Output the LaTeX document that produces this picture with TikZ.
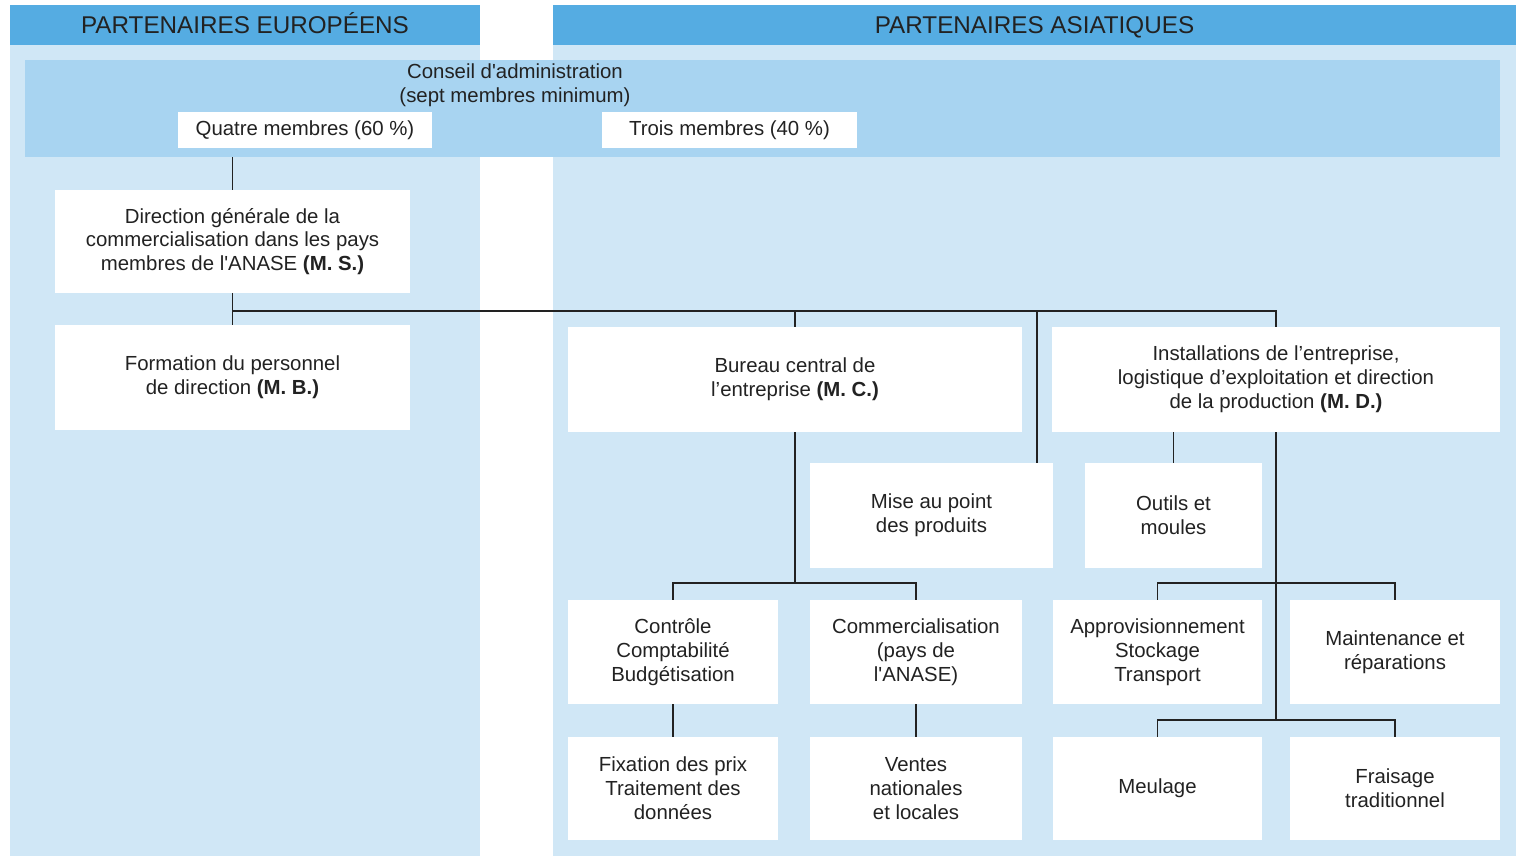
\documentclass[tikz,border=0pt]{standalone}
\usepackage{fontspec}
\setmainfont{Liberation Sans}
\definecolor{hdr}{HTML}{55ACE2}
\definecolor{band}{HTML}{A8D4F1}
\definecolor{col}{HTML}{D0E7F6}
\definecolor{ink}{HTML}{222222}
\tikzset{
  box/.style={fill=white, draw=none, align=center, font=\fontsize{11.6}{13.6}\selectfont, text=ink, inner sep=2pt},
  conn/.style={draw=ink, line width=0.8pt},
  hdrtext/.style={font=\fontsize{13.8}{15}\selectfont, text=ink, text height=10pt, text depth=0pt}
}
\begin{document}
\begin{tikzpicture}[x=0.02cm,y=-0.02cm]
\useasboundingbox[fill=white] (0,0) rectangle (1524,856);
% columns
\fill[col] (10,45) rectangle (480,856);
\fill[col] (553,45) rectangle (1516,856);
\node[fill=hdr, minimum width=9.4cm, minimum height=0.8cm, inner sep=0pt, hdrtext] (heu) at (245,25) {PARTENAIRES EUROPÉENS};
\node[fill=hdr, minimum width=19.26cm, minimum height=0.8cm, inner sep=0pt, hdrtext] (has) at (1034.5,25) {PARTENAIRES ASIATIQUES};
% council band
\node[fill=band, minimum width=29.5cm, minimum height=1.94cm, inner sep=0pt] (council) at (762.5,108.5) {};
\node[box, fill=none] (ctitle) at (515,85) {Conseil d\textquotesingle administration\\(sept membres minimum)};
\node[box, minimum width=5.08cm, minimum height=0.72cm] (quatre) at (305,130) {Quatre membres (60 \%)};
\node[box, minimum width=5.1cm, minimum height=0.72cm] (trois) at (729.5,130) {Trois membres (40 \%)};
% level 1
\node[box, minimum width=7.1cm, minimum height=2.06cm] (dg) at (232.5,241.5) {Direction générale de la\\commercialisation dans les pays\\membres de l\textquotesingle ANASE \textbf{(M. S.)}};
\node[box, minimum width=7.1cm, minimum height=2.1cm] (form) at (232.5,377.5) {Formation du personnel\\de direction \textbf{(M. B.)}};
\node[box, minimum width=9.08cm, minimum height=2.1cm] (bureau) at (795,379.5) {Bureau central de\\l’entreprise \textbf{(M. C.)}};
\node[box, minimum width=8.96cm, minimum height=2.1cm] (install) at (1276,379.5) {Installations de l’entreprise,\\logistique d’exploitation et direction\\de la production \textbf{(M. D.)}};
% level 2
\node[box, minimum width=4.86cm, minimum height=2.1cm] (mise) at (931.5,515.5) {Mise au point\\des produits};
\node[box, minimum width=3.54cm, minimum height=2.1cm] (outils) at (1173.5,515.5) {Outils et\\moules};
% level 3
\node[box, minimum width=4.2cm, minimum height=2.08cm] (controle) at (673,652) {Contrôle\\Comptabilité\\Budgétisation};
\node[box, minimum width=4.24cm, minimum height=2.08cm] (commerc) at (916,652) {Commercialisation\\(pays de\\l\textquotesingle ANASE)};
\node[box, minimum width=4.18cm, minimum height=2.08cm] (appro) at (1157.5,652) {Approvisionnement\\Stockage\\Transport};
\node[box, minimum width=4.2cm, minimum height=2.08cm] (maint) at (1395,652) {Maintenance et\\réparations};
% level 4
\node[box, minimum width=4.2cm, minimum height=2.06cm] (fix) at (673,788.5) {Fixation des prix\\Traitement des\\données};
\node[box, minimum width=4.24cm, minimum height=2.06cm] (ventes) at (916,788.5) {Ventes\\nationales\\et locales};
\node[box, minimum width=4.18cm, minimum height=2.06cm] (meul) at (1157.5,788.5) {Meulage};
\node[box, minimum width=4.2cm, minimum height=2.06cm] (frais) at (1395,788.5) {Fraisage\\traditionnel};
% bus coordinates
\coordinate (bus) at (0,311);
\coordinate (mt) at (1037,0);
\coordinate (busB) at (0,583);
\coordinate (busC) at (0,583);
\coordinate (busD) at (0,720);
% connectors
\draw[conn] (council.south -| dg.north) -- (dg.north);
\draw[conn] (dg.south) -- (form.north);
\draw[conn] (dg.south |- bus) -- (bus -| install.north) -- (install.north);
\draw[conn] (bureau.north |- bus) -- (bureau.north);
\draw[conn] (mt |- bus) -- (mt |- mise.north);
\draw[conn] (outils.north |- install.south) -- (outils.north);
\draw[conn] (bureau.south) -- (bureau.south |- busB);
\draw[conn] (controle.north) -- (controle.north |- busB) -- (busB -| commerc.north) -- (commerc.north);
\draw[conn] (install.south) -- (install.south |- busD);
\draw[conn] (appro.north) -- (appro.north |- busC) -- (busC -| maint.north) -- (maint.north);
\draw[conn] (meul.north) -- (meul.north |- busD) -- (busD -| frais.north) -- (frais.north);
\draw[conn] (controle.south) -- (fix.north);
\draw[conn] (commerc.south) -- (ventes.north);
\end{tikzpicture}
\end{document}
